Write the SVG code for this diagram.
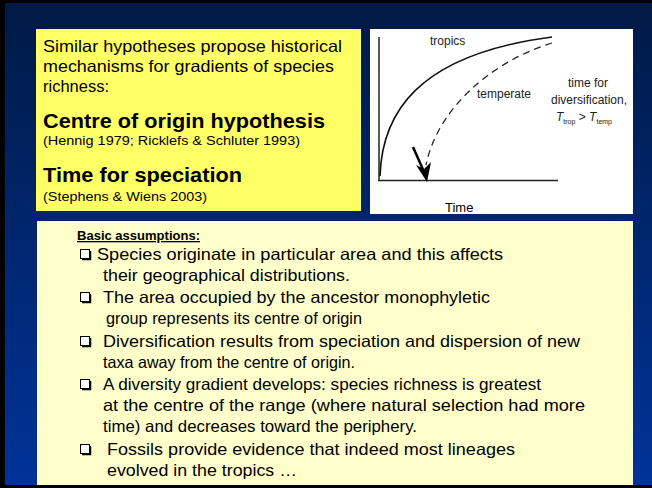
<svg xmlns="http://www.w3.org/2000/svg" width="652" height="488" viewBox="0 0 652 488">
<defs>
<linearGradient id="bg" x1="0" y1="0" x2="0" y2="1">
<stop offset="0" stop-color="#001a45"/>
<stop offset="1" stop-color="#003399"/>
</linearGradient>
<style>
.t{font-family:"Liberation Sans",Arial,sans-serif;fill:#000}
.h{font-size:16.5px}
.b{font-size:20.5px;font-weight:bold}
.r{font-size:12.5px}
.g{font-size:12px;fill:#222}
.l{font-size:16.5px}
</style>
</defs>
<rect x="0" y="0" width="652" height="488" fill="#000"/>
<rect x="5" y="3" width="647" height="482" fill="url(#bg)"/>

<g id="intro">
<rect x="36" y="29" width="325" height="182" fill="#ffff66"/>
<text class="t h" x="43" y="52" textLength="299" lengthAdjust="spacingAndGlyphs">Similar hypotheses propose historical</text>
<text class="t h" x="43" y="72" textLength="291" lengthAdjust="spacingAndGlyphs">mechanisms for gradients of species</text>
<text class="t h" x="43" y="92">richness:</text>
<text class="t b" x="43" y="128" textLength="282" lengthAdjust="spacingAndGlyphs">Centre of origin hypothesis</text>
<text class="t r" x="43" y="145" textLength="257" lengthAdjust="spacingAndGlyphs">(Hennig 1979; Ricklefs &amp; Schluter 1993)</text>
<text class="t b" x="43" y="182" textLength="199" lengthAdjust="spacingAndGlyphs">Time for speciation</text>
<text class="t r" x="43" y="201" textLength="164" lengthAdjust="spacingAndGlyphs">(Stephens &amp; Wiens 2003)</text>
</g>

<g id="graph">
<rect x="370" y="29" width="263" height="185" fill="#fff"/>
<line x1="379" y1="37" x2="379" y2="181" stroke="#222" stroke-width="1.5"/>
<line x1="378" y1="180.5" x2="558" y2="180.5" stroke="#222" stroke-width="1.5"/>
<path d="M380,176 C382,115 415,55 552,37" fill="none" stroke="#111" stroke-width="1.6"/>
<path d="M552,43 C490,62 437,110 426,165" fill="none" stroke="#222" stroke-width="1.3" stroke-dasharray="7,5"/>
<line x1="413" y1="147" x2="425" y2="174" stroke="#000" stroke-width="2.5"/>
<polygon points="427,182 416,165 424,169 431,162" fill="#000"/>
<text class="t g" x="430" y="45">tropics</text>
<text class="t g" x="477" y="98">temperate</text>
<text class="t g" x="588" y="87" text-anchor="middle">time for</text>
<text class="t g" x="589" y="104" text-anchor="middle">diversification,</text>
<text class="t g" x="556" y="121"><tspan font-style="italic">T</tspan><tspan font-size="7" dy="3">trop</tspan><tspan dy="-3"> &gt; </tspan><tspan font-style="italic">T</tspan><tspan font-size="7" dy="3">temp</tspan></text>
<text class="t" x="445" y="212" font-size="13" fill="#222">Time</text>
</g>

<g id="assumptions">
<rect x="37" y="221" width="596" height="264" fill="#ffffcc"/>
<text class="t" x="77" y="240" font-size="13" font-weight="bold" text-decoration="underline" textLength="123" lengthAdjust="spacingAndGlyphs">Basic assumptions:</text>
<g fill="#fff" stroke="#000" stroke-width="1">
<rect x="80.5" y="249.5" width="9" height="9"/>
<rect x="80.5" y="292.5" width="9" height="9"/>
<rect x="80.5" y="336.5" width="9" height="9"/>
<rect x="80.5" y="379.5" width="9" height="9"/>
<rect x="80.5" y="444.5" width="9" height="9"/>
</g>
<g stroke="#000" stroke-width="1.5" fill="none">
<path d="M82,259.5 H90.5 V251"/>
<path d="M82,302.5 H90.5 V294"/>
<path d="M82,346.5 H90.5 V338"/>
<path d="M82,389.5 H90.5 V381"/>
<path d="M82,454.5 H90.5 V446"/>
</g>
<text class="t l" x="97" y="260" textLength="406" lengthAdjust="spacingAndGlyphs">Species originate in particular area and this affects</text>
<text class="t l" x="103" y="281" textLength="247" lengthAdjust="spacingAndGlyphs">their geographical distributions.</text>
<text class="t l" x="103" y="303" textLength="387" lengthAdjust="spacingAndGlyphs">The area occupied by the ancestor monophyletic</text>
<text class="t l" x="106" y="324" textLength="256" lengthAdjust="spacingAndGlyphs">group represents its centre of origin</text>
<text class="t l" x="103" y="347" textLength="477" lengthAdjust="spacingAndGlyphs">Diversification results from speciation and dispersion of new</text>
<text class="t l" x="103" y="368" textLength="252" lengthAdjust="spacingAndGlyphs">taxa away from the centre of origin.</text>
<text class="t l" x="103" y="390" textLength="438" lengthAdjust="spacingAndGlyphs">A diversity gradient develops: species richness is greatest</text>
<text class="t l" x="103" y="411" textLength="482" lengthAdjust="spacingAndGlyphs">at the centre of the range (where natural selection had more</text>
<text class="t l" x="103" y="432" textLength="314" lengthAdjust="spacingAndGlyphs">time) and decreases toward the periphery.</text>
<text class="t l" x="107" y="455" textLength="408" lengthAdjust="spacingAndGlyphs">Fossils provide evidence that indeed most lineages</text>
<text class="t l" x="107" y="476" textLength="190" lengthAdjust="spacingAndGlyphs">evolved in the tropics …</text>
</g>
</svg>
